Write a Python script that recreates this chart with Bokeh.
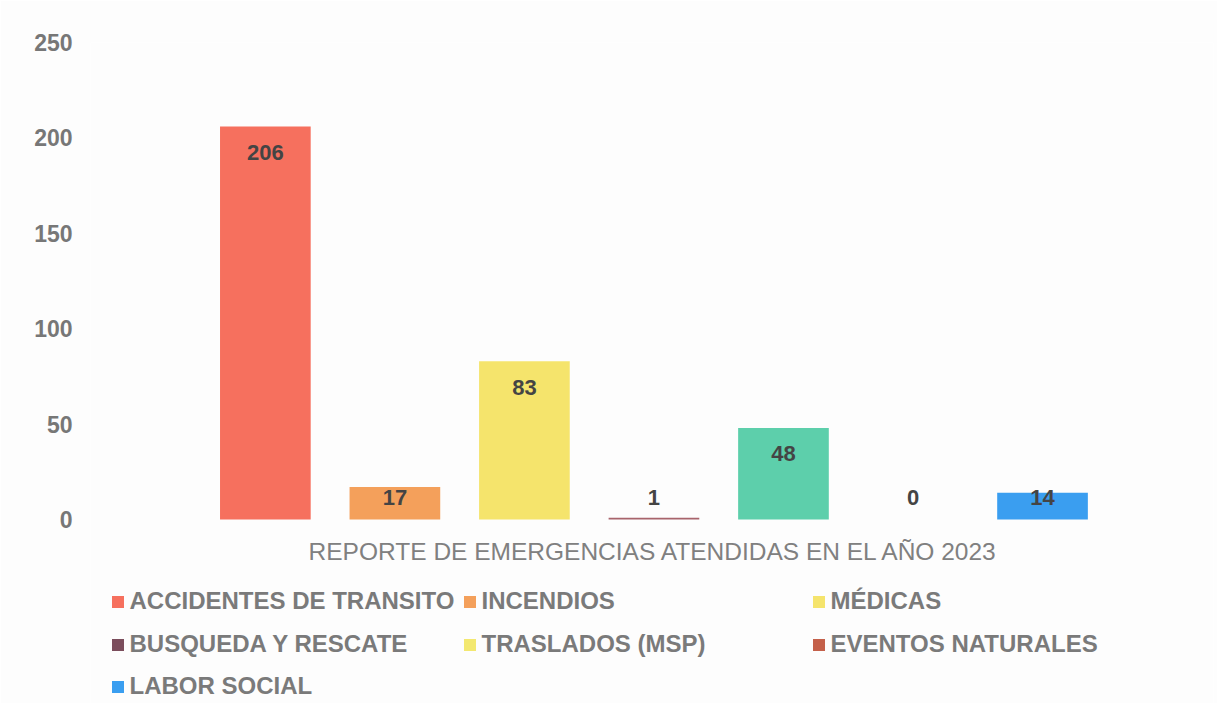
from bokeh.plotting import figure
from bokeh.models import Range1d, FixedTicker, Legend, LegendItem, ColumnDataSource, Label
from bokeh.core.properties import value
from bokeh.embed import file_html
from bokeh.resources import INLINE

# ---- data ----
categories = ["ACCIDENTES DE TRANSITO", "INCENDIOS", "MÉDICAS", "BUSQUEDA Y RESCATE",
              "TRASLADOS (MSP)", "EVENTOS NATURALES", "LABOR SOCIAL"]
values = [206, 17, 83, 1, 48, 0, 14]
bar_colors = ["#F6705E", "#F4A05B", "#F5E46C", "#A8646C", "#5DCFAB", "#C4604A", "#3A9EF0"]
legend_colors = ["#F6705E", "#F4A05B", "#F5E46C", "#7B4D5C", "#F3E870", "#C4604A", "#3A9EF0"]
y_ticks = [0, 50, 100, 150, 200, 250]
chart_title = "REPORTE DE EMERGENCIAS ATENDIDAS EN EL AÑO 2023"

FONT = "Liberation Sans"
BG = "#FDFDFD"

xs = list(range(1, len(values) + 1))
label_y = [max(v - 13.6, 11.8) for v in values]

p = figure(width=1217, height=703, output_backend="svg", toolbar_location=None,
           x_range=Range1d(-0.35, 8.32), y_range=Range1d(-96.4, 250),
           min_border_left=90, min_border_right=4, min_border_top=42, min_border_bottom=0)
p.background_fill_color = BG
p.border_fill_color = BG
p.outline_line_color = None
p.xgrid.visible = False
p.ygrid.visible = False
p.xaxis.visible = False

src = ColumnDataSource(dict(x=xs, top=values, color=bar_colors, lcolor=legend_colors,
                            ly=label_y, txt=[str(v) for v in values]))
p.vbar(x="x", top="top", width=0.7, fill_color="color", line_color=None, source=src)
# zero-height companion bars carrying the legend swatch colours
legend_r = p.vbar(x="x", top=0, bottom=0, width=0.7, fill_color="lcolor",
                  line_color=None, source=src)
p.text(x="x", y="ly", text="txt", source=src, text_align="center", text_baseline="middle",
       text_font=value(FONT), text_font_style="bold", text_font_size="22px", text_color="#444444")

# y axis
ya = p.yaxis[0]
ya.ticker = FixedTicker(ticks=y_ticks)
ya.axis_line_color = None
ya.major_tick_line_color = None
ya.minor_tick_line_color = None
ya.major_label_standoff = 12
ya.major_label_text_font = FONT
ya.major_label_text_font_style = "bold"
ya.major_label_text_font_size = "23px"
ya.major_label_text_color = "#777777"

# category-axis title below the bars
p.add_layout(Label(x=sum(xs) / len(xs), y=-16.8, text=chart_title,
                   text_align="center", text_baseline="middle",
                   text_font=FONT, text_font_size="24.5px", text_color="#808080"))

# legend: 7 single-item legends placed in a 3-column grid
col_x = [19.5, 371.5, 720.5]
row_y = [88, 45, 3]
for i, name in enumerate(categories):
    lg = Legend(items=[LegendItem(label=name, renderers=[legend_r], index=i)],
                location=(col_x[i % 3], row_y[i // 3]),
                padding=0, margin=0, border_line_color=None, background_fill_alpha=0,
                glyph_width=15, glyph_height=15, label_standoff=5, label_height=15,
                label_text_font=FONT, label_text_font_style="bold",
                label_text_font_size="24px", label_text_color="#7A7A7A")
    p.add_layout(lg, "center")

open("out.html", "w").write(file_html(p, INLINE))
